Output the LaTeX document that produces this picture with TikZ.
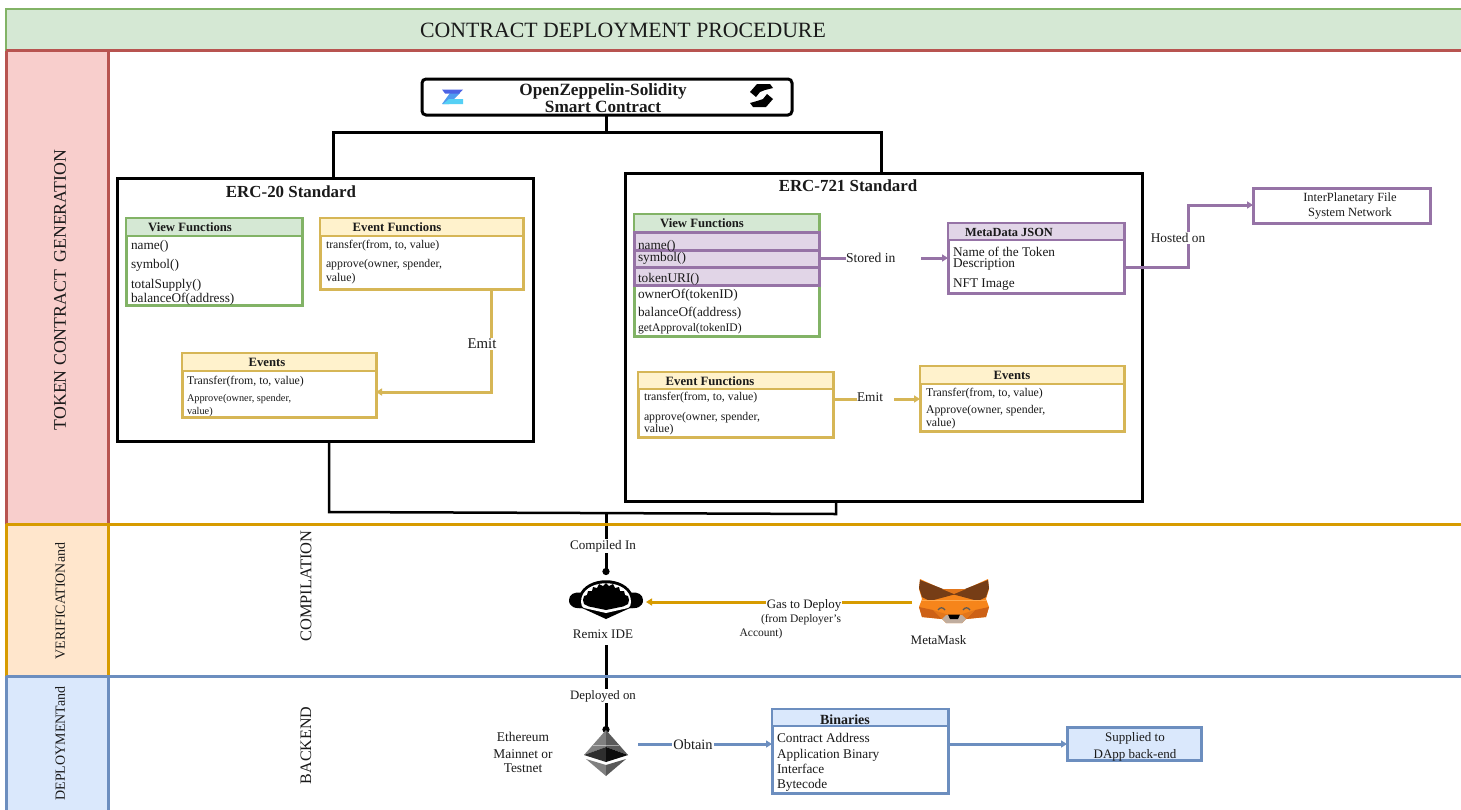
\documentclass[tikz,border=0pt]{standalone}
\usepackage{fontspec}
\setmainfont{Liberation Serif}
\usetikzlibrary{arrows.meta}
\definecolor{gF}{HTML}{D5E8D4}\definecolor{gS}{HTML}{82B366}
\definecolor{yF}{HTML}{FFF2CC}\definecolor{yS}{HTML}{D6B656}
\definecolor{pF}{HTML}{E1D5E7}\definecolor{pS}{HTML}{9673A6}
\definecolor{bF}{HTML}{DAE8FC}\definecolor{bS}{HTML}{6C8EBF}
\definecolor{rF}{HTML}{F8CECC}\definecolor{rS}{HTML}{B85450}
\definecolor{oF}{HTML}{FFE6CC}\definecolor{oS}{HTML}{D79B00}
\definecolor{inkc}{HTML}{1A1A1A}
\definecolor{foxA}{HTML}{F6851B}\definecolor{foxB}{HTML}{763D16}
\definecolor{foxC}{HTML}{E2761B}\definecolor{foxD}{HTML}{CD6116}
\definecolor{foxE}{HTML}{C0AD9E}\definecolor{foxF}{HTML}{FFA94D}
\definecolor{zA}{HTML}{4C63E4}\definecolor{zB}{HTML}{4F9BEF}\definecolor{zC}{HTML}{55D0F5}
\newcommand{\fs}[1]{\fontsize{#1}{#1}\selectfont}
\tikzset{
 every node/.style={inner sep=0pt,outer sep=0pt},
 txt/.style={font=\fs{13.3},text=inkc,yshift=-1pt},
 lt/.style={txt,anchor=west},
 sm/.style={lt,font=\fs{11.8}},
 hd/.style={font=\fs{12.7}\bfseries,text=inkc,yshift=-.5pt},
 ttl/.style={font=\fs{16.9}\bfseries,text=inkc},
 big/.style={draw=black,line width=3pt},
 conn/.style={draw=black,line width=3pt},
 ylw/.style={draw=yS,line width=3pt},
 ygl/.style={ylw,-{Triangle[length=6pt,width=7pt]}},
 prp/.style={draw=pS,line width=3pt},
 prl/.style={prp,-{Triangle[length=6pt,width=7pt]}},
 blu/.style={draw=bS,line width=3pt},
 bll/.style={blu,-{Triangle[length=6pt,width=7pt]}},
 lab/.style={fill=white,txt,inner sep=1pt},
 dotend/.style={-{Circle[length=7pt,width=7pt]}},
 lane/.style={font=\fs{14},text=inkc,rotate=90},
}
\begin{document}
\begin{tikzpicture}[x=1pt,y=-1pt]
\useasboundingbox (0,0) rectangle (1461,809);
\fill[white] (0,0) rectangle (1461,809);
% lanes
\path[fill=rF] (6,50) rectangle (108,524);
\path[fill=oF] (6,524) rectangle (108,676);
\path[fill=bF] (6,676) rectangle (108,815);
\draw[rS,line width=3pt] (1462,50) -- (6,50) -- (6,524) (108,50) -- (108,524);
\draw[oS,line width=3pt] (6,524) -- (6,676) (108,524) -- (108,676);
\draw[bS,line width=3pt] (6,676) -- (6,815) (108,676) -- (108,815);
\node[draw=gS,fill=gF,line width=2.5pt,minimum width=1460pt,minimum height=41pt,anchor=north west] (title) at (6,9) {};
\draw[rS,line width=3pt] (6,50) -- (1462,50);
\node[font=\fs{21.8},text=inkc] (titletext) at (623,30.5) {CONTRACT DEPLOYMENT PROCEDURE};
\node[lane,font=\fs{17.8}] (l1) at (60,290) {TOKEN CONTRACT\, GENERATION};
\node[lane] (l2) at (60,601) {VERIFICATIONand};
\node[lane] (l3) at (60,743.5) {DEPLOYMENTand};
\node[lane,font=\fs{16.4}] (l2b) at (306,586) {COMPILATION};
\node[lane,font=\fs{16}] (l3b) at (306,745.5) {BACKEND};
% top
\node[draw=black,line width=3pt,rounded corners=4pt,minimum width=370pt,minimum height=36pt,anchor=north west] (oz) at (422,79) {};
\node[align=center,font=\fs{17.2}\bfseries,text=inkc] (oztext) at (603,98.5) {OpenZeppelin-Solidity\\Smart Contract};
% Z logo
\fill[zB] (450,93) -- (460,93) -- (449,104) -- (442,104) -- cycle;
\fill[zC] (449,99) -- (463,99) -- (463,104) -- (443,104) -- cycle;
\fill[zA] (442,89.5) -- (463,89.5) -- (459,93.5) -- (445,93.5) -- cycle;
% right logo
\fill[black] (750,92) -- (757,84) -- (770,84) -- (773,88) -- (765,90) -- (760,92) -- (756,97) -- cycle;
\fill[black] (773,99) -- (766,107) -- (753,107) -- (750,103) -- (757,101) -- (763,99) -- (767,94) -- cycle;
% ERC20
\node[big,minimum width=416pt,minimum height=263pt,anchor=north west] (erc20) at (117,178) {};
\node[ttl] (erc20t) at (291,192) {ERC-20 Standard};
\node[draw=gS,line width=3pt,minimum width=176pt,minimum height=87pt,anchor=north west] (v20) at (126,218) {};
\path[fill=gF] (127,219) rectangle (301,235);
\draw[gS,line width=2pt] (126,236) -- (302,236);
\node[hd] (v20t) at (190,227) {View Functions};
\node[lt] (a1) at (131,245) {name()};
\node[lt] (a2) at (131,264) {symbol()};
\node[lt] (a3) at (131,284) {totalSupply()};
\node[lt] (a4) at (131,298.5) {balanceOf(address)};
\node[draw=yS,line width=3pt,minimum width=203pt,minimum height=71pt,anchor=north west] (e20) at (320,218) {};
\path[fill=yF] (321,219) rectangle (522,235);
\draw[yS,line width=2pt] (320,236) -- (523,236);
\node[hd] (e20t) at (397,227) {Event Functions};
\node[sm] (b1) at (326,245) {transfer(from, to, value)};
\node[sm] (b2) at (326,264) {approve(owner, spender,};
\node[sm] (b3) at (326,278) {value)};
\node[draw=yS,line width=3pt,minimum width=194pt,minimum height=64pt,anchor=north west] (ev20) at (182,353) {};
\path[fill=yF] (183,354) rectangle (375,370);
\draw[yS,line width=2pt] (182,371) -- (376,371);
\node[hd] (ev20t) at (267,362) {Events};
\node[sm] (c1) at (187,381) {Transfer(from, to, value)};
\node[lt,font=\fs{10.3}] (c2) at (187,398) {Approve(owner, spender,};
\node[lt,font=\fs{10.3}] (c3) at (187,411) {value)};
\coordinate (e20a) at (491,289);
\coordinate (e20b) at (491,392);
\coordinate (ev20r) at (376,392);
\draw[ygl] (e20a) -- (e20b) -- (ev20r);
\node[lab,font=\fs{14.8}] (emit1) at (482,343) {Emit};
% ERC721
\node[big,minimum width=517pt,minimum height=328pt,anchor=north west] (erc721) at (625,173) {};
\node[ttl] (erc721t) at (848,186) {ERC-721 Standard};
\node[draw=gS,line width=3pt,minimum width=185pt,minimum height=122pt,anchor=north west] (v721) at (634,214) {};
\path[fill=gF] (635,215) rectangle (818,231);
\node[hd] (v721t) at (702,223) {View Functions};
\foreach \a/\b in {232/250,250/267,267/285}{
 \path[fill=pF] (634,\a) rectangle (819,\b);
 \draw[pS,line width=3pt] (633,\a) -- (821,\a) (633,\b) -- (821,\b) (634,\a) -- (634,\b) (819,\a) -- (819,\b);
}
\node[lt] (d1) at (638,245) {name()};
\node[lt] (d2) at (638,257) {symbol()};
\node[lt] (d3) at (638,278) {tokenURI()};
\node[lt] (d4) at (638,294) {ownerOf(tokenID)};
\node[lt] (d5) at (638,312) {balanceOf(address)};
\node[lt,font=\fs{11.6}] (d6) at (638,328) {getApproval(tokenID)};
\node[draw=pS,line width=3pt,minimum width=176pt,minimum height=70pt,anchor=north west] (meta) at (948,223) {};
\path[fill=pF] (949,224) rectangle (1123,239);
\draw[pS,line width=2.5pt] (948,240) -- (1124,240);
\node[hd,font=\fs{12.4}\bfseries] (metat) at (1009,232) {MetaData JSON};
\node[lt] (f1) at (953,250.5) {Name of the Token};
\node[lt] (f2) at (953,264) {Description};
\node[lt] (f3) at (953,284) {NFT Image};
\coordinate (sa) at (819,258);
\coordinate (sb) at (948,258);
\draw[prl] (sa) -- (sb);
\node[fill=white,minimum width=75pt,minimum height=16pt,anchor=west] (stbg) at (846,257) {};
\node[lt,font=\fs{13.6}] (st) at (846,257) {Stored in};
\node[draw=pS,line width=3pt,minimum width=177pt,minimum height=35pt,anchor=north west] (ipfs) at (1253,188) {};
\node[font=\fs{12.5},align=center,text=inkc] (ipfst) at (1350,206) {InterPlanetary File\\[3pt]System Network};
\coordinate (ha) at (1124,267);
\coordinate (hb) at (1188,267);
\coordinate (hc) at (1188,205);
\coordinate (hd) at (1253,205);
\draw[prl] (ha) -- (hb) -- (hc) -- (hd);
\node[lab] (hosted) at (1178,237) {Hosted on};
\node[draw=yS,line width=3pt,minimum width=195pt,minimum height=65pt,anchor=north west] (e721) at (638,372) {};
\path[fill=yF] (639,373) rectangle (832,388);
\draw[yS,line width=2pt] (638,389) -- (833,389);
\node[hd] (e721t) at (710,381) {Event Functions};
\node[sm] (g1) at (644,397) {transfer(from, to, value)};
\node[sm] (g2) at (644,417) {approve(owner, spender,};
\node[sm] (g3) at (644,429) {value)};
\node[draw=yS,line width=3pt,minimum width=204pt,minimum height=65pt,anchor=north west] (ev721) at (920,366) {};
\path[fill=yF] (921,367) rectangle (1123,383);
\draw[yS,line width=2pt] (920,384) -- (1124,384);
\node[hd] (ev721t) at (1012,375) {Events};
\node[sm] (h1) at (926,393) {Transfer(from, to, value)};
\node[sm] (h2) at (926,410) {Approve(owner, spender,};
\node[sm] (h3) at (926,423) {value)};
\coordinate (ea) at (833,399);
\coordinate (eb) at (920,399);
\draw[ygl] (ea) -- (eb);
\node[fill=white,minimum width=37pt,minimum height=14pt] (embg) at (875.5,397) {};
\node[txt,font=\fs{13.3}] (emit2) at (870,396) {Emit};
% top connectors
\coordinate (j1) at (606,132);
\draw[conn] (oz.south -| j1) -- (j1);
\draw[conn] (erc20.north -| 333,0) -- (333,132) -- (881,132) -- (erc721.north -| 881,0);
% bottom connectors
\coordinate (k1) at (329,512);
\coordinate (k2) at (836,514);
\draw[conn,line width=2.5pt] (erc20.south -| k1) -- (k1) -- (k2) -- (erc721.south -| k2);
% Remix
\coordinate (rtop) at (606,513);
\coordinate (rdot) at (606,575);
\draw[conn,dotend] (rtop) -- (rdot);
\node[lab,font=\fs{13.1}] (comp) at (603,545) {Compiled In};
\begin{scope}[shift={(606,602)}]
\fill[black] (-27,-6) .. controls (-20,-27) and (20,-27) .. (27,-6) -- (27,6) -- (-27,6) -- cycle;
\fill[black] (-24,-9) .. controls (-32,-11) and (-37,-7) .. (-37,-2) .. controls (-37,5) and (-31,7) .. (-22,6) -- cycle;
\fill[black] (24,-9) .. controls (32,-11) and (37,-7) .. (37,-2) .. controls (37,5) and (31,7) .. (22,6) -- cycle;
\fill[black] (-24,6) -- (24,6) -- (0,17) -- cycle;
\fill[white] (-25,0) .. controls (-25,-25) and (25,-25) .. (25,0) .. controls (25,3) and (24,5) .. (22,6) -- (0,11) -- (-22,6) .. controls (-24,5) and (-25,3) .. (-25,0) -- cycle;
\fill[black] (-23,-2) -- (-22,-6) -- (-19,-7) -- (-18,-11) -- (-14,-11) -- (-13,-15) -- (-9,-14) -- (-7,-18) -- (-3,-16) -- (0,-19) -- (3,-16) -- (7,-18) -- (9,-14) -- (13,-15) -- (14,-11) -- (18,-11) -- (19,-7) -- (22,-6) -- (23,-2) -- (22,2) -- (17,4.5) -- (0,8) -- (-17,4.5) -- (-22,2) -- cycle;
\end{scope}
\node[lab,font=\fs{13.1},minimum width=70pt,minimum height=18pt] (remix) at (603,633) {Remix IDE};
\coordinate (gs) at (912,602);
\coordinate (ge) at (646,602);
\draw[draw=oS,line width=3pt,-{Triangle[length=6pt,width=7pt]}] (gs) -- (ge);
\node[lab,font=\fs{12.9}] (gas) at (804,604) {Gas to Deploy};
\node[font=\fs{11.5},text=inkc] (gas2) at (801,620) {(from Deployer's};
\node[font=\fs{11.5},text=inkc] (gas3) at (761,634) {Account)};
% Fox
\begin{scope}[shift={(919,579)}]
\fill[foxA] (1,0) -- (23,10) -- (47,10) -- (69,0) -- (70,10) -- (67,20) -- (70,28) -- (67,38) -- (47,40) -- (43,44) -- (27,44) -- (23,40) -- (3,38) -- (0,28) -- (3,20) -- (0,10) -- cycle;
\fill[foxB] (1,1) -- (37,15) -- (11,22) -- (3,18) -- (0,9) -- cycle;
\fill[foxB] (69,1) -- (33,15) -- (59,22) -- (67,18) -- (70,9) -- cycle;
\fill[foxC] (23,10) -- (47,10) -- (35,15) -- cycle;
\fill[foxD] (3,38) -- (0,28) -- (14,31) -- (23,40) -- cycle;
\fill[foxD] (67,38) -- (70,28) -- (56,31) -- (47,40) -- cycle;
\fill[foxC] (14,31) -- (30,36) -- (23,40) -- cycle;
\fill[foxC] (56,31) -- (40,36) -- (47,40) -- cycle;
\fill[foxE] (23,40) -- (47,40) -- (43,44) -- (27,44) -- cycle;
\fill[foxE] (27,36) -- (43,36) -- (47,40) -- (23,40) -- cycle;
\fill[black] (29,35.5) -- (41,35.5) -- (39,40) -- (31,40) -- cycle;
\draw[foxF,line width=.7pt] (3,21) -- (67,21);
\draw[black!65,line width=1.2pt] (19,31) .. controls (21,28) and (24,28) .. (26,31);
\draw[black!65,line width=1.2pt] (44,31) .. controls (46,28) and (49,28) .. (51,31);
\end{scope}
\node[txt,font=\fs{13}] (mm) at (938.5,639) {MetaMask};
% deploy
\coordinate (da) at (606,645);
\coordinate (db) at (606,733);
\draw[conn,dotend] (da) -- (db);
\node[lab,font=\fs{12.8}] (dep) at (603,695) {Deployed on};
\begin{scope}[shift={(606,730)}]
\fill[black!50] (0,0) -- (-22,25) -- (0,17) -- cycle;
\fill[black!65] (0,0) -- (22,25) -- (0,17) -- cycle;
\fill[black!82] (-22,25) -- (0,17) -- (0,32) -- cycle;
\fill[black!95] (22,25) -- (0,17) -- (0,32) -- cycle;
\fill[black!50] (-20,29) -- (0,35) -- (0,46) -- cycle;
\fill[black!65] (20,29) -- (0,35) -- (0,46) -- cycle;
\draw[white,opacity=.45,line width=.6pt] (-13,15) -- (13,15);
\end{scope}
\node[font=\fs{13.4},align=center,text=inkc] (eth) at (523,752.5) {Ethereum\\[3pt]Mainnet or\\[.5pt]Testnet};
% binaries
\node[draw=bS,line width=3pt,minimum width=176pt,minimum height=84pt,anchor=north west] (bin) at (772,709) {};
\path[fill=bF] (773,710) rectangle (947,725);
\draw[bS,line width=2pt] (772,726) -- (948,726);
\node[hd,font=\fs{14}\bfseries] (bint) at (845,719) {Binaries};
\node[lt] (i1) at (777,737) {Contract Address};
\node[lt] (i2) at (777,754) {Application Binary};
\node[lt] (i3) at (777,768) {Interface};
\node[lt] (i4) at (777,784) {Bytecode};
\coordinate (oa) at (638,744);
\draw[bll] (oa) -- (bin.west |- oa);
\node[lab,font=\fs{14.4}] (obt) at (693,744) {Obtain};
\node[draw=bS,fill=bF,line width=3pt,minimum width=134pt,minimum height=33pt,anchor=north west] (sup) at (1067,727) {};
\node[font=\fs{13},align=center,text=inkc] (supt) at (1135,746.5) {Supplied to\\[4pt]DApp back-end};
\draw[bll] (bin.east |- oa) -- (sup.west |- oa);
% lane rules over connectors
\draw[oS,line width=3pt] (6,524) -- (1462,524);
\draw[bS,line width=3pt] (6,676) -- (1462,676);
\end{tikzpicture}
\end{document}
